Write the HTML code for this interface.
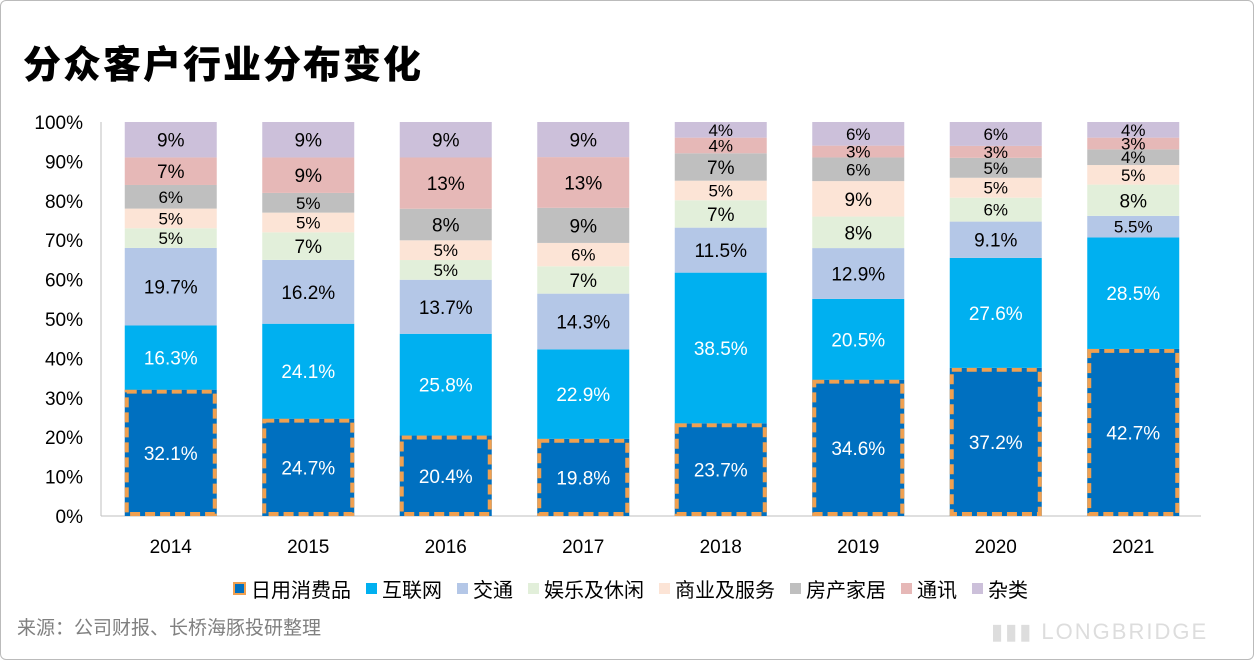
<!DOCTYPE html>
<html><head><meta charset="utf-8">
<style>
body{margin:0;background:#fff;font-family:"Liberation Sans","Noto Sans CJK SC",sans-serif;}
#wrap{position:relative;width:1252px;height:658px;border:1px solid #bbb;border-radius:6px;overflow:hidden;}
#title{position:absolute;left:22px;top:33px;font-size:38px;font-weight:900;color:#000;letter-spacing:2px;}
#src{position:absolute;left:16px;top:612px;font-size:19px;color:#808080;}
#legend{position:absolute;left:232px;top:573px;font-size:20px;color:#000;display:flex;gap:0;}
.li{display:flex;align-items:center;margin-right:15px;}
.sw{width:11px;height:11px;margin-right:5px;}
#wm{position:absolute;left:990px;top:618px;font-size:22px;color:#ddd;letter-spacing:2px;}
</style></head><body>
<div id="wrap">
<div id="title">分众客户行业分布变化</div>
<svg id="chart" width="1252" height="600" style="position:absolute;left:0;top:0"></svg>
<div id="legend"></div>
<div id="src">来源：公司财报、长桥海豚投研整理</div>
<div id="wm">▮▮▮ LONGBRIDGE</div>
</div>
<script>
const years=["2014","2015","2016","2017","2018","2019","2020","2021"];
const seriesNames=["日用消费品","互联网","交通","娱乐及休闲","商业及服务","房产家居","通讯","杂类"];
const consumer=[32.1,24.7,20.4,19.8,23.7,34.6,37.2,42.7];
const internet=[16.3,24.1,25.8,22.9,38.5,20.5,27.6,28.5];
const transport=[19.7,16.2,13.7,14.3,11.5,12.9,9.1,5.5];
const leisure=[5,7,5,7,7,8,6,8];
const business=[5,5,5,6,5,9,5,5];
const realty=[6,5,8,9,7,6,5,4];
const telecom=[7,9,13,13,4,3,3,3];
const misc=[9,9,9,9,4,6,6,4];
const yTicks=[0,10,20,30,40,50,60,70,80,90,100];
const colors=["#0070C0","#00B0F0","#B4C7E7","#E2EFDA","#FCE4D6","#BFBFBF","#E6B8B7","#CCC0DA"];
const series=[consumer,internet,transport,leisure,business,realty,telecom,misc];
const NS="http://www.w3.org/2000/svg";
const svg=document.getElementById('chart');
const y0=515,y1=121,xL=100,xR=1200;
const yS=v=>y0-(y0-y1)*v/100;
const band=(xR-xL)/years.length;
const xC=i=>xL+band*(i+0.5)+1;
const bw=92;
function el(t,a){const e=document.createElementNS(NS,t);for(const k in a)e.setAttribute(k,a[k]);svg.appendChild(e);return e;}
yTicks.forEach(t=>{
 const tx=el('text',{x:82,y:yS(t)+7,'text-anchor':'end','font-size':19,fill:'#000'});
 tx.textContent=t+'%';
 
 
});
const ax=el('line',{x1:xL,x2:xR,y1:y0,y2:y0,stroke:'#bfbfbf','stroke-width':1});


const yax=el('line',{x1:xL,x2:xL,y1:y1,y2:y0,stroke:'#bfbfbf','stroke-width':1});


years.forEach((yr,i)=>{
 let tot=0;series.forEach(s=>tot+=s[i]);
 let cum=0;
 series.forEach((s,k)=>{
  const v=s[i]/tot*100;
  const ya=yS(cum+v),yb=yS(cum);
  const r=el('rect',{x:xC(i)-bw/2,y:ya,width:bw,height:yb-ya,fill:colors[k]});
  
  
  if(k===0){
   const b=el('rect',{x:xC(i)-bw/2+2,y:ya+2,width:bw-4,height:yb-ya-4,fill:'none',stroke:'#F0A050','stroke-width':4,'stroke-dasharray':'10 5'});
   
   
  }
  const small=s[i]<6.5;
  const lab=el('text',{x:xC(i),y:(ya+yb)/2+(small?6:7),'text-anchor':'middle','font-size':small?17:19,fill:k<2?'#fff':'#000'});
  lab.textContent=(Number.isInteger(s[i])?s[i]:s[i].toFixed(1))+'%';
  
  
  cum+=v;
 });
 const xl=el('text',{x:xC(i),y:552,'text-anchor':'middle','font-size':19,fill:'#000'});
 xl.textContent=yr;
 
 
});
const lg=document.getElementById('legend');
seriesNames.forEach((n,k)=>{
 const d=document.createElement('div');d.className='li';
 
 
 const sw=document.createElement('div');sw.className='sw';sw.style.background=colors[k];
 if(k===0){sw.style.border='2px solid #F0A050';sw.style.width='9px';sw.style.height='9px';}
 d.appendChild(sw);const t=document.createElement('span');t.textContent=n;d.appendChild(t);lg.appendChild(d);
});
</script>
</body></html>
